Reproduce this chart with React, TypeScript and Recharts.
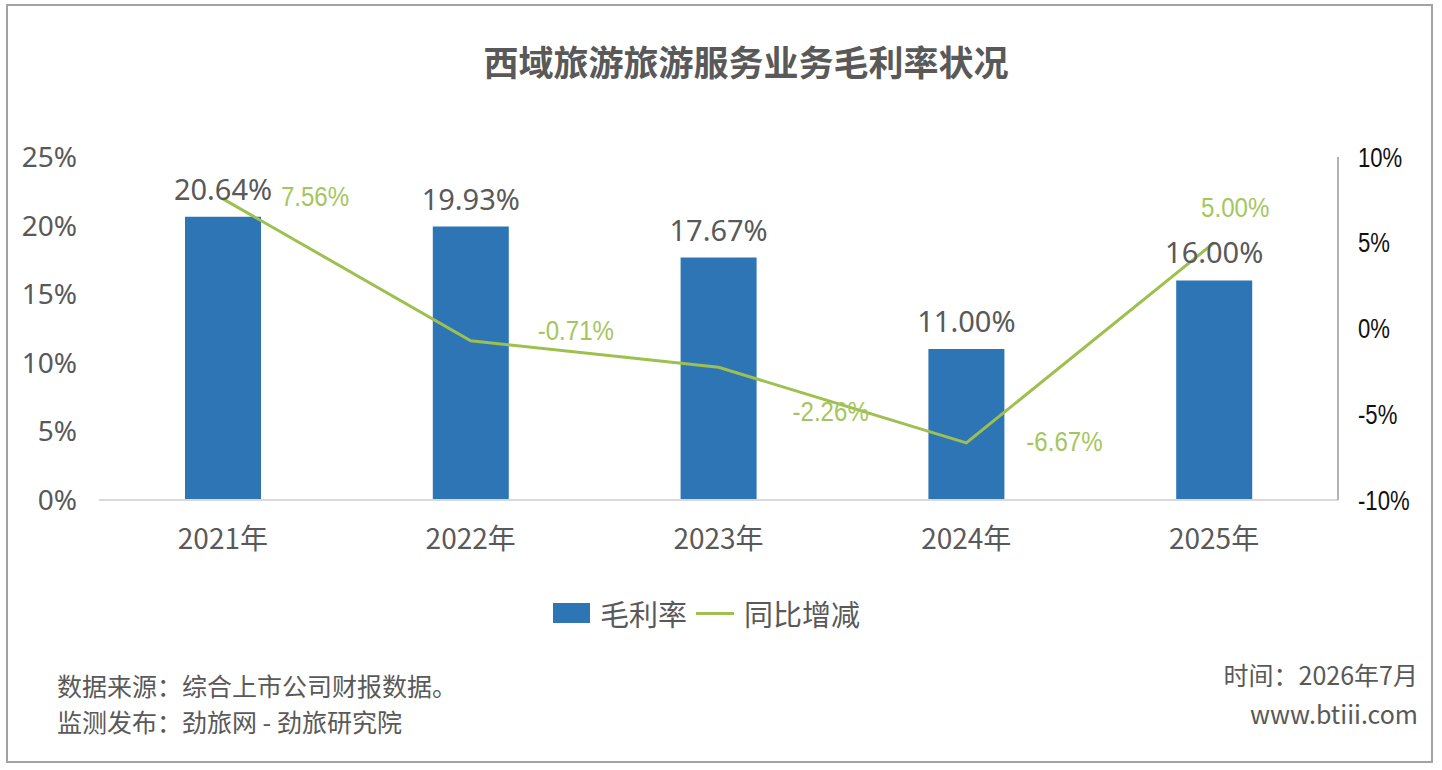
import React from 'react';
import {
  Bar,
  ComposedChart,
  LabelList,
  Legend,
  Line,
  XAxis,
  YAxis,
} from 'recharts';

const years = ['2021年', '2022年', '2023年', '2024年', '2025年'];
const grossMargin = [20.64, 19.93, 17.67, 11.0, 16.0];
const yoyChange = [7.56, -0.71, -2.26, -6.67, 5.0];
const leftTicks = [0, 5, 10, 15, 20, 25];
const rightTicks = [-10, -5, 0, 5, 10];

// where Excel put each green label, relative to its point
const yoyLabelOffsets = [
  [58, 7],
  [67, -1],
  [74, 54],
  [60, 8],
  [-13, -26],
];

const data = years.map((year, i) => ({
  year,
  margin: grossMargin[i],
  yoy: yoyChange[i],
}));

const GRAY = '#595959';
const BLUE = '#2E75B6';
const GREEN = '#9DC04E';
const GREEN_TEXT = '#A5C65E';
const LATIN = '"Noto Sans", "Liberation Sans", sans-serif';
const CJK = '"Noto Sans CJK SC", "Noto Sans", sans-serif';
const NARROW = '"Liberation Sans", sans-serif';
const SQUEEZE = 0.82; // no narrow font installed, squash Liberation Sans instead

const pct = (v: number) => `${v.toFixed(2)}%`;

function BarValue(props: any) {
  const { x, y, width, value } = props;
  return (
    <text
      x={x + width / 2}
      y={y - 17}
      textAnchor="middle"
      fill={GRAY}
      fontSize={29}
      fontFamily={LATIN}
    >
      {pct(value)}
    </text>
  );
}

function YoyValue(props: any) {
  const { x, y, value, index } = props;
  const [dx, dy] = yoyLabelOffsets[index] ?? [0, 0];
  return (
    <text
      transform={`translate(${x + dx},${y + dy}) scale(0.86,1)`}
      fill={GREEN_TEXT}
      fontSize={28}
      fontFamily={NARROW}
    >
      {pct(value)}
    </text>
  );
}

function RightTick(props: any) {
  const { x, y, payload } = props;
  return (
    <text
      transform={`translate(${x},${y}) scale(${SQUEEZE},1)`}
      dy="0.355em"
      textAnchor="start"
      fill="#111"
      fontSize={27}
      fontFamily={NARROW}
    >
      {`${payload.value}%`}
    </text>
  );
}

function LegendContent(props: any) {
  const { payload = [] } = props;
  const items = [...payload].sort((a: any, b: any) =>
    a.type === b.type ? 0 : a.type === 'rect' ? -1 : 1,
  );
  return (
    <div style={{ display: 'flex', alignItems: 'center', paddingLeft: 553, height: 34 }}>
      {items.map((item: any) => (
        <div key={item.value} style={{ display: 'flex', alignItems: 'center', marginRight: 9 }}>
          {item.type === 'line' ? (
            <span style={{ width: 38, height: 3, background: item.color, marginRight: 10 }} />
          ) : (
            <span style={{ width: 37, height: 20, background: item.color, marginRight: 10 }} />
          )}
          <span style={{ fontFamily: CJK, fontSize: 29, color: GRAY, lineHeight: '34px' }}>
            {item.value}
          </span>
        </div>
      ))}
    </div>
  );
}

export default function App() {
  return (
    <div
      style={{
        position: 'absolute',
        left: 0,
        top: 0,
        width: 1442,
        height: 770,
        background: '#fff',
        overflow: 'hidden',
      }}
    >
      <div
        style={{
          position: 'absolute',
          left: 6,
          top: 4,
          width: 1427,
          height: 759,
          border: '2px solid #a3a3a3',
          boxSizing: 'border-box',
        }}
      />
      <div
        style={{
          position: 'absolute',
          left: 0,
          top: 39,
          width: 1492,
          textAlign: 'center',
          fontFamily: CJK,
          fontWeight: 700,
          fontSize: 35,
          lineHeight: '44px',
          color: GRAY,
        }}
      >
        西域旅游旅游服务业务毛利率状况
      </div>

      <div style={{ position: 'absolute', left: 0, top: 0 }}>
        <ComposedChart
          width={1442}
          height={770}
          data={data}
          margin={{ top: 157, right: 14, bottom: 230, left: 9 }}
        >
          <XAxis
            dataKey="year"
            height={40}
            axisLine={{ stroke: '#d9d9d9', strokeWidth: 2 }}
            tickLine={false}
            tickSize={6}
            tickMargin={23}
            tick={{ fill: GRAY, fontSize: 28, fontFamily: CJK }}
          />
          <YAxis
            yAxisId="left"
            width={90}
            domain={[0, 25]}
            ticks={leftTicks}
            tickFormatter={(v) => `${v}%`}
            axisLine={false}
            tickLine={false}
            tickSize={6}
            tickMargin={16}
            tick={{ fill: GRAY, fontSize: 28, fontFamily: LATIN }}
          />
          <YAxis
            yAxisId="right"
            orientation="right"
            width={90}
            domain={[-10, 10]}
            ticks={rightTicks}
            axisLine={{ stroke: '#9a9a9a', strokeWidth: 1.5 }}
            tickLine={false}
            tickSize={6}
            tickMargin={14}
            tick={<RightTick />}
          />
          <Legend
            verticalAlign="middle"
            layout="horizontal"
            wrapperStyle={{ top: 596, left: 0, width: 1442 }}
            content={<LegendContent />}
          />
          <Bar
            yAxisId="left"
            dataKey="margin"
            name="毛利率"
            fill={BLUE}
            barSize={76}
            legendType="rect"
            isAnimationActive={false}
          >
            <LabelList dataKey="margin" content={<BarValue />} />
          </Bar>
          <Line
            yAxisId="right"
            dataKey="yoy"
            name="同比增减"
            type="linear"
            stroke={GREEN}
            strokeWidth={3}
            dot={false}
            activeDot={false}
            legendType="line"
            isAnimationActive={false}
          >
            <LabelList dataKey="yoy" content={<YoyValue />} />
          </Line>
        </ComposedChart>
      </div>

      <div
        style={{
          position: 'absolute',
          left: 57,
          top: 667,
          fontFamily: CJK,
          fontSize: 25,
          lineHeight: '36px',
          color: GRAY,
          whiteSpace: 'nowrap',
        }}
      >
        <div>数据来源：综合上市公司财报数据。</div>
        <div>监测发布：劲旅网 - 劲旅研究院</div>
      </div>
      <div
        style={{
          position: 'absolute',
          right: 1442 - 1418,
          top: 655,
          fontFamily: CJK,
          fontSize: 25,
          lineHeight: '39px',
          color: GRAY,
          textAlign: 'right',
          whiteSpace: 'nowrap',
        }}
      >
        <div>时间：2026年7月</div>
        <div>www.btiii.com</div>
      </div>
    </div>
  );
}
